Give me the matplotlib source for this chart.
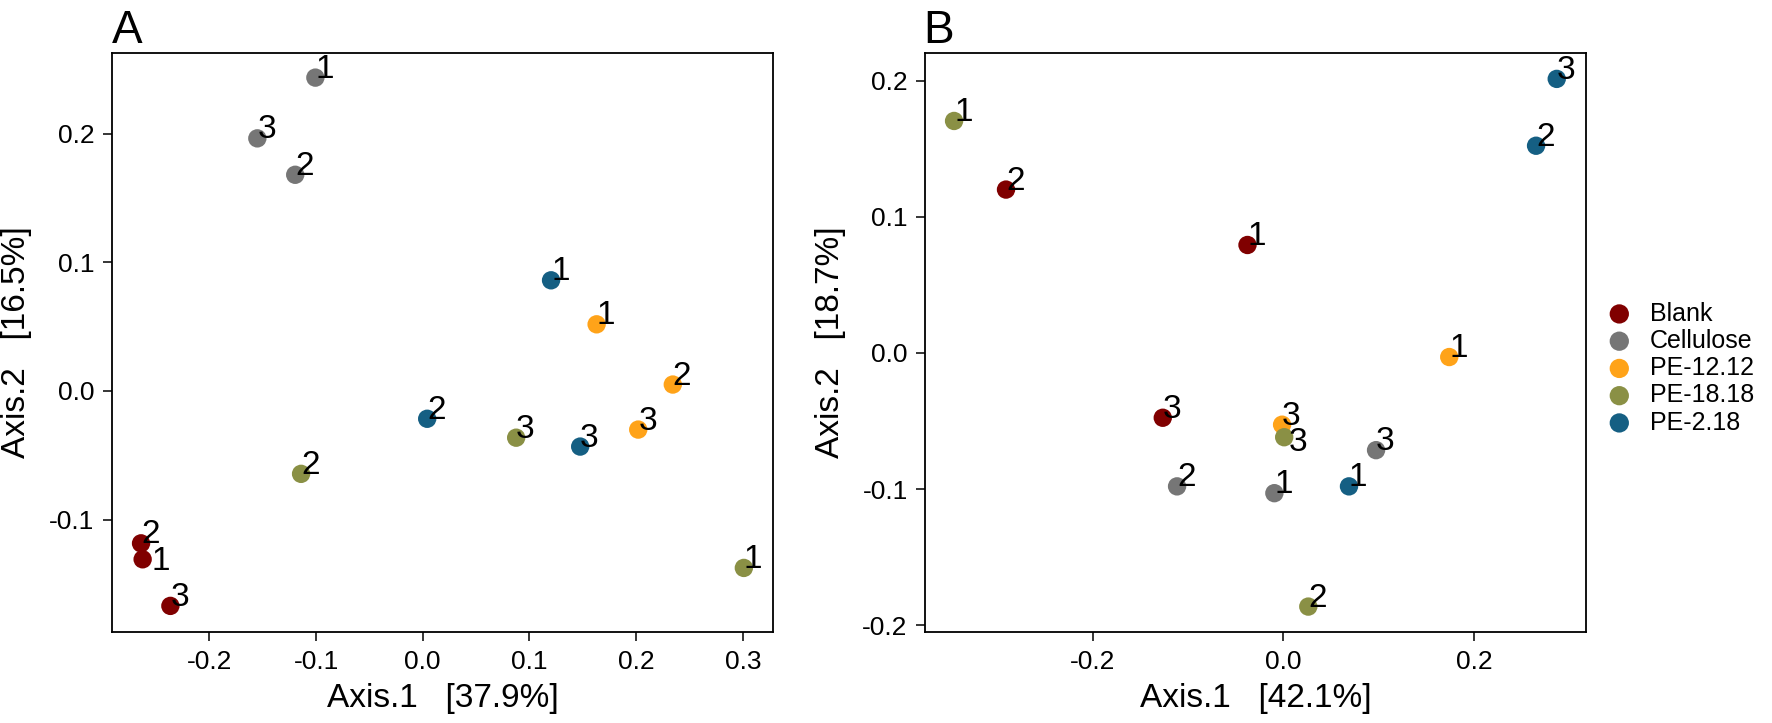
import matplotlib
matplotlib.use("Agg")
import matplotlib.pyplot as plt
from matplotlib.ticker import FixedLocator, FuncFormatter

plt.rcParams['font.family'] = ['Liberation Sans', 'DejaVu Sans']
plt.rcParams['axes.unicode_minus'] = False

# ---------------- data ----------------
groups = ["Blank", "Cellulose", "PE-12.12", "PE-18.18", "PE-2.18"]
group_colors = ["#800000", "#767676", "#FFA319", "#8A9045", "#155F83"]

# Panel A  (Axis.1 37.9 %, Axis.2 16.5 %)
a_group = ["Blank", "Blank", "Blank",
           "Cellulose", "Cellulose", "Cellulose",
           "PE-12.12", "PE-12.12", "PE-12.12",
           "PE-18.18", "PE-18.18", "PE-18.18",
           "PE-2.18", "PE-2.18", "PE-2.18"]
a_label = ["1", "2", "3"] * 5
a_x = [-0.2625, -0.2640, -0.2365,
       -0.1006, -0.1195, -0.1550,
       0.1630, 0.2344, 0.2020,
       0.3010, -0.1140, 0.0876,
       0.1203, 0.0042, 0.1476]
a_y = [-0.1308, -0.1184, -0.1670,
       0.2435, 0.1680, 0.1963,
       0.0518, 0.0050, -0.0300,
       -0.1375, -0.0644, -0.0363,
       0.0860, -0.0216, -0.0432]

# Panel B  (Axis.1 42.1 %, Axis.2 18.7 %)
b_group = ["Blank", "Blank", "Blank",
           "Cellulose", "Cellulose", "Cellulose",
           "PE-12.12", "PE-12.12",
           "PE-18.18", "PE-18.18", "PE-18.18",
           "PE-2.18", "PE-2.18", "PE-2.18"]
b_label = ["1", "2", "3",
           "1", "2", "3",
           "1", "3",
           "1", "2", "3",
           "1", "2", "3"]
b_x = [-0.0376, -0.2910, -0.1265,
       -0.0094, -0.1115, 0.0973,
       0.1741, -0.0013,
       -0.3455, 0.0262, 0.0009,
       0.0689, 0.2652, 0.2869]
b_y = [0.0793, 0.1200, -0.0476,
       -0.1030, -0.0980, -0.0714,
       -0.0030, -0.0527,
       0.1704, -0.1863, -0.0619,
       -0.0980, 0.1522, 0.2013]

a_xlabel = "Axis.1   [37.9%]"
a_ylabel = "Axis.2   [16.5%]"
b_xlabel = "Axis.1   [42.1%]"
b_ylabel = "Axis.2   [18.7%]"
a_xticks = [-0.2, -0.1, 0.0, 0.1, 0.2, 0.3]
a_yticks = [-0.1, 0.0, 0.1, 0.2]
b_xticks = [-0.2, 0.0, 0.2]
b_yticks = [-0.2, -0.1, 0.0, 0.1, 0.2]

# label nudges (points) for the few labels that were repelled
a_nudge = {("Blank", "1"): (6.5, -8.0)}
b_nudge = {("PE-18.18", "3"): (3.0, -9.8)}

# ---------------- figure ----------------
W, H = 1772, 723
fig = plt.figure(figsize=(W / 100, H / 100), dpi=100)

def px_axes(l, r, t, b):
    return [l / W, 1 - b / H, (r - l) / W, (b - t) / H]

axA = fig.add_axes(px_axes(111.7, 773.3, 53.3, 631.5))
axB = fig.add_axes(px_axes(925.0, 1586.0, 53.3, 631.5))

fmt = FuncFormatter(lambda v, p: f"{v:.1f}")

def draw(ax, grp, lab, xs, ys, nudge, xlim, ylim, xt, yt, xl, yl):
    handles = []
    for g, c in zip(groups, group_colors):
        idx = [i for i, gg in enumerate(grp) if gg == g]
        h = ax.scatter([xs[i] for i in idx], [ys[i] for i in idx], s=175,
                       color=c, edgecolors='none', label=g, zorder=2)
        handles.append(h)
    for g, l, x, y in zip(grp, lab, xs, ys):
        dx, dy = nudge.get((g, l), (0.0, 0.0))
        ax.annotate(l, (x, y), xytext=(dx, dy), textcoords='offset points',
                    ha='left', va='baseline', fontsize=24, color='black', zorder=3)
    ax.set_xlim(*xlim)
    ax.set_ylim(*ylim)
    ax.xaxis.set_major_locator(FixedLocator(xt))
    ax.yaxis.set_major_locator(FixedLocator(yt))
    ax.xaxis.set_major_formatter(fmt)
    ax.yaxis.set_major_formatter(fmt)
    ax.tick_params(axis='both', direction='out', length=6.5, width=1.1,
                   labelsize=19, colors='black')
    ax.tick_params(axis='x', pad=7.0)
    ax.tick_params(axis='y', pad=6.0)
    for sp in ax.spines.values():
        sp.set_linewidth(1.3)
        sp.set_color('black')
    ax.set_xlabel(xl, fontsize=24, labelpad=6)
    ax.set_ylabel(yl, fontsize=24, labelpad=12)
    return handles

draw(axA, a_group, a_label, a_x, a_y, a_nudge,
     (-0.2915, 0.3286), (-0.1869, 0.2624), a_xticks, a_yticks, a_xlabel, a_ylabel)
handles = draw(axB, b_group, b_label, b_x, b_y, b_nudge,
               (-0.376, 0.3176), (-0.2046, 0.2201), b_xticks, b_yticks, b_xlabel, b_ylabel)

fig.text(112 / W, 1 - 43 / H, "A", fontsize=33, ha='left', va='baseline')
fig.text(923 / W, 1 - 43 / H, "B", fontsize=33, ha='left', va='baseline')

fig.legend(handles=handles, labels=groups, loc='upper left',
           bbox_to_anchor=(1606.8 / W, 1 - 301.5 / H), frameon=False,
           fontsize=18, borderpad=0, borderaxespad=0, handlelength=1.0,
           handletextpad=0.72, labelspacing=0.13, scatterpoints=1,
           markerscale=1.05)

fig.savefig("out.png", dpi=100)
